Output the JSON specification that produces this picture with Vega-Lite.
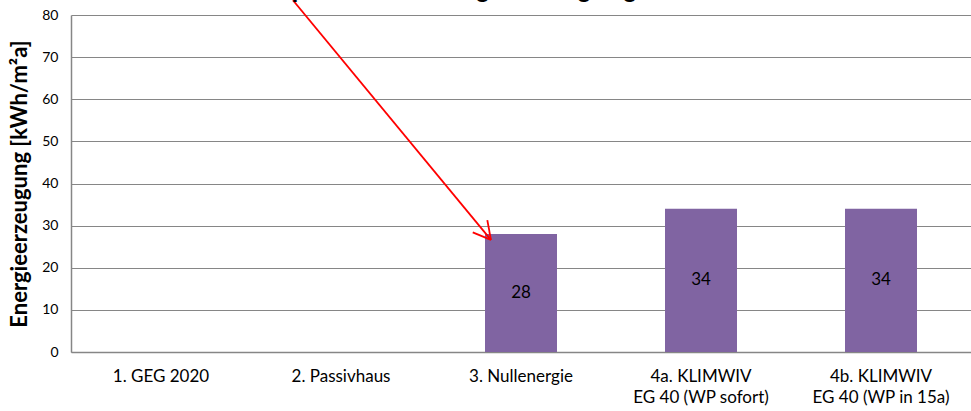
{
  "$schema": "https://vega.github.io/schema/vega-lite/v6.json",
  "width": 900,
  "height": 337,
  "autosize": {"type": "none"},
  "padding": {"left": 71, "top": 15, "right": 0, "bottom": 59},
  "background": "white",
  "config": {
    "view": {"stroke": null},
    "font": "Lato",
    "axisY": {
      "title": "Energieerzeugung [kWh/m²a]",
      "titleFontSize": 22,
      "titleFontWeight": "bold",
      "titleColor": "black",
      "titlePadding": 10,
      "values": [0, 10, 20, 30, 40, 50, 60, 70, 80],
      "labelFontSize": 14,
      "labelColor": "black",
      "labelPadding": 13,
      "ticks": false,
      "grid": true,
      "gridColor": "#868686",
      "gridWidth": 1.2,
      "domainColor": "#868686",
      "domainWidth": 1.5
    }
  },
  "layer": [
    {
      "data": {
        "values": [
          {"Variante": "1. GEG 2020", "Wert": null},
          {"Variante": "2. Passivhaus", "Wert": null},
          {"Variante": "3. Nullenergie", "Wert": 28},
          {"Variante": "4a. KLIMWIV|EG 40 (WP sofort)", "Wert": 34},
          {"Variante": "4b. KLIMWIV|EG 40 (WP in 15a)", "Wert": 34}
        ]
      },
      "layer": [
        {
          "mark": {"type": "bar", "color": "#8064A2"},
          "encoding": {
            "x": {
              "field": "Variante",
              "type": "nominal",
              "sort": null,
              "scale": {
                "domain": ["1. GEG 2020", "2. Passivhaus", "3. Nullenergie", "4a. KLIMWIV|EG 40 (WP sofort)", "4b. KLIMWIV|EG 40 (WP in 15a)"],
                "paddingInner": 0.6,
                "paddingOuter": 0.3
              },
              "axis": {
                "title": null,
                "labelAngle": 0,
                "labelExpr": "split(datum.value, '|')",
                "labelFontSize": 17,
                "labelLineHeight": 21,
                "labelColor": "black",
                "labelPadding": 16,
                "ticks": false,
                "domainColor": "#868686",
                "domainWidth": 1.5
              }
            },
            "y": {
              "field": "Wert",
              "type": "quantitative",
              "title": "Energieerzeugung [kWh/m²a]",
              "scale": {"domain": [0, 80], "nice": false}
            }
          }
        },
        {
          "transform": [
            {"filter": "isValid(datum.Wert)"},
            {"calculate": "datum.Wert / 2", "as": "Mitte"}
          ],
          "mark": {"type": "text", "fontSize": 17, "color": "black", "baseline": "middle"},
          "encoding": {
            "x": {"field": "Variante", "type": "nominal", "sort": null},
            "y": {"field": "Mitte", "type": "quantitative", "title": "Energieerzeugung [kWh/m²a]", "scale": {"domain": [0, 80], "nice": false}},
            "text": {"field": "Wert", "type": "quantitative"}
          }
        }
      ]
    },
    {
      "layer": [
        {
          "data": {
            "values": [
              {"x": 1.233, "y": 83.5, "x2": 2.333, "y2": 26.6},
              {"x": 2.333, "y": 26.6, "x2": 2.313, "y2": 31.3},
              {"x": 2.333, "y": 26.6, "x2": 2.232, "y2": 28.4}
            ]
          },
          "mark": {"type": "rule", "color": "#FF0000", "strokeWidth": 1.8},
          "encoding": {
            "x": {"field": "x", "type": "quantitative", "scale": {"domain": [0, 5], "nice": false, "zero": false}, "axis": null},
            "x2": {"field": "x2"},
            "y": {"field": "y", "type": "quantitative", "title": "Energieerzeugung [kWh/m²a]", "scale": {"domain": [0, 80], "nice": false}},
            "y2": {"field": "y2"}
          }
        },
        {
          "data": {
            "values": [
              {"x": 1.133, "y": 84.3, "Titel": "Spezifische Energieerzeugung"}
            ]
          },
          "mark": {"type": "text", "align": "left", "baseline": "alphabetic", "font": "Liberation Sans", "fontSize": 25, "fontWeight": "bold", "color": "black"},
          "encoding": {
            "x": {"field": "x", "type": "quantitative", "scale": {"domain": [0, 5], "nice": false, "zero": false}, "axis": null},
            "y": {"field": "y", "type": "quantitative", "title": "Energieerzeugung [kWh/m²a]", "scale": {"domain": [0, 80], "nice": false}},
            "text": {"field": "Titel", "type": "nominal"}
          }
        }
      ]
    }
  ],
  "resolve": {"scale": {"x": "independent"}}
}
